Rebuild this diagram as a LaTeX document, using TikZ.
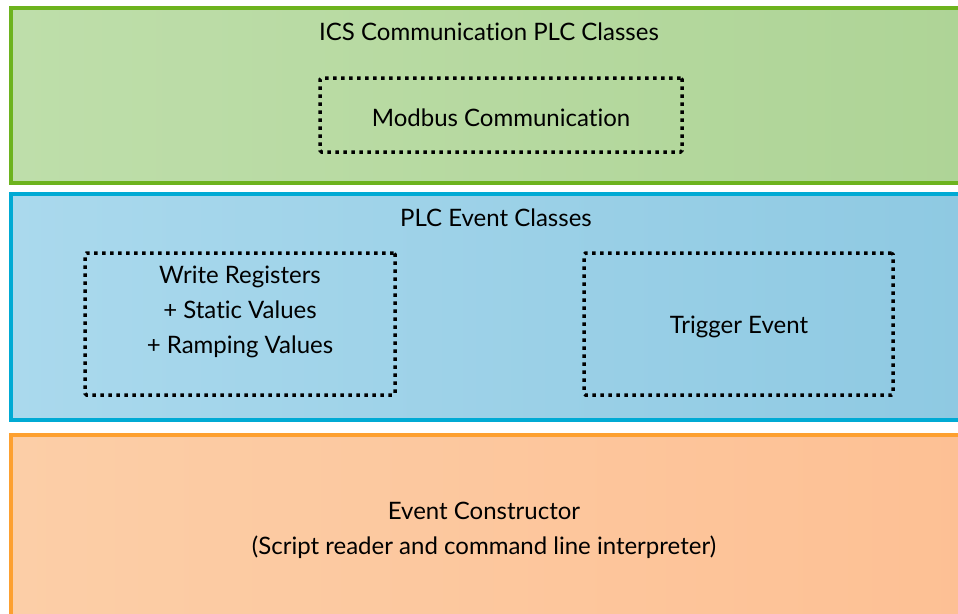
\documentclass[tikz,border=0pt]{standalone}
\usepackage{fontspec}
\setmainfont[Ligatures={NoCommon}]{Lato}
\definecolor{gfill}{RGB}{190,222,170}
\definecolor{gfill2}{RGB}{174,212,150}
\definecolor{gline}{RGB}{109,179,30}
\definecolor{bfill}{RGB}{170,217,237}
\definecolor{bfill2}{RGB}{142,201,226}
\definecolor{bline}{RGB}{0,170,212}
\definecolor{ofill}{RGB}{252,206,167}
\definecolor{ofill2}{RGB}{253,192,148}
\definecolor{oline}{RGB}{253,160,48}
\tikzset{
  x=1pt, y=-1pt,
  band/.style={line width=4pt},
  dotbox/.style={draw=black, line width=3.5pt, dash pattern=on 3.5pt off 4.5pt, rectangle, inner sep=0pt, rounded corners=1.5pt},
  lbl/.style={font=\fontsize{24}{35}\selectfont, align=center, text=black, inner sep=0pt},
}
\begin{document}
\begin{tikzpicture}
\useasboundingbox (0,0) rectangle (958,613);
\clip (0,0) rectangle (958,613);
\fill[white] (0,0) rectangle (958,613);
% bands
\path[band, draw=gline, left color=gfill, right color=gfill2] (11,8) rectangle (975,182.5);
\path[band, draw=bline, left color=bfill, right color=bfill2] (11,193.5) rectangle (975,420);
\path[band, draw=oline, left color=ofill, right color=ofill2] (11,435) rectangle (975,630);
% titles
\node[lbl] (icstitle) at (489,32) {ICS Communication PLC Classes};
\node[lbl] (evtitle) at (496,218) {PLC Event Classes};
% dotted boxes
\node[dotbox, minimum width=362pt, minimum height=74pt] (modbus) at (501,115) {};
\node[lbl] (modbustext) at (501,118) {Modbus Communication};
\node[dotbox, minimum width=310pt, minimum height=142pt] (wr) at (240,324) {};
\node[lbl] (wrtext) at (240,312) {Write Registers\\+ Static Values\\+ Ramping Values};
\node[dotbox, minimum width=309pt, minimum height=142pt] (trig) at (738.5,324) {};
\node[lbl] (trigtext) at (739,327) {Trigger Event};
% constructor
\node[lbl] (ctor) at (484,530) {Event Constructor\\(Script reader and command line interpreter)};
\end{tikzpicture}
\end{document}
